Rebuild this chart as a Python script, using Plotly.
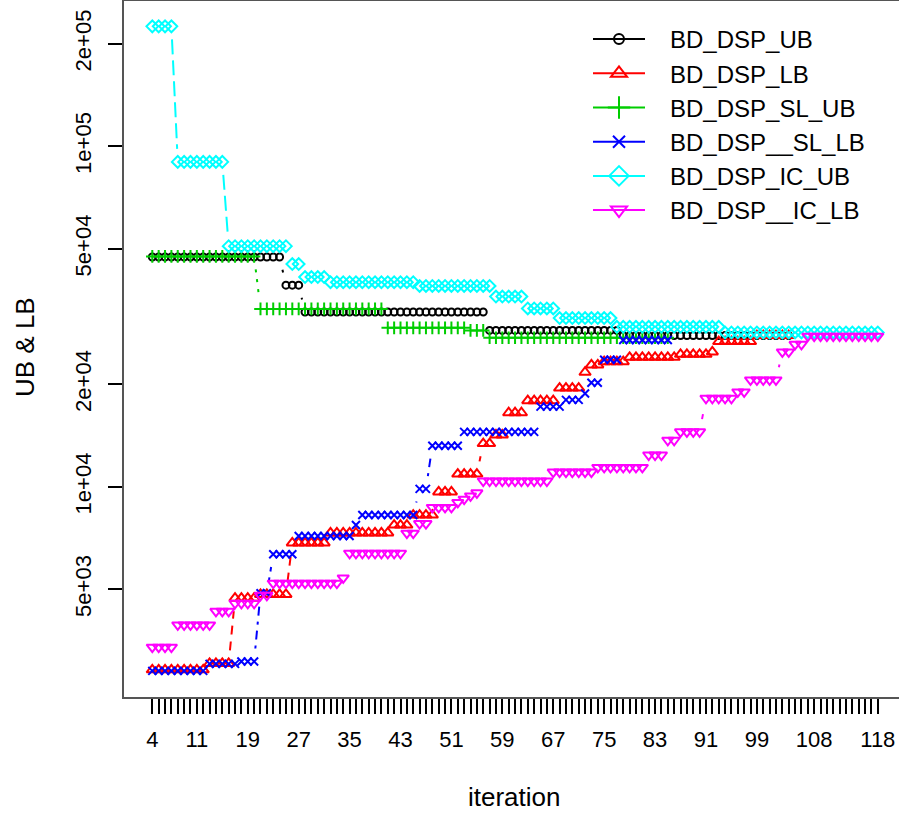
import math
import plotly.graph_objects as go

# ---------------- data ----------------
ITER_LABELS = [4, 11, 19, 27, 35, 43, 51, 59, 67, 75, 83, 91, 99, 108, 118]
ITER_FIRST, ITER_LAST = 4, 118
Y_TICKS = [5e3, 1e4, 2e4, 5e4, 1e5, 2e5]
Y_TICK_TEXT = ["5e+03", "1e+04", "2e+04", "5e+04", "1e+05", "2e+05"]

# BD_DSP (iterations 4..104)
iter_bd = list(range(4, 105))
bd_ub = [
    47300, 47300, 47300, 47300, 47300, 47300, 47300, 47300, 47300, 47300,
    47300, 47300, 47300, 47300, 47300, 47300, 47300, 47300, 47300, 47300,
    47300,
    39100, 39100, 39100,
    32600, 32600, 32600, 32600, 32600, 32600, 32600, 32600, 32600, 32600,
    32600, 32600, 32600, 32600, 32600, 32600, 32600, 32600, 32600, 32600,
    32600, 32600, 32600, 32600, 32600, 32600, 32600, 32600, 32600,
    28800, 28800, 28800, 28800, 28800, 28800, 28800, 28800, 28800, 28800,
    28800, 28800, 28800, 28800, 28800, 28800, 28800, 28800, 28800, 28800,
    28800,
    27800, 27800, 27800, 27800, 27800, 27800, 27800, 27800, 27800, 27800,
    27800, 27800, 27800, 27800, 27800, 27800, 27800, 27800, 27800, 27800,
    27800, 27800, 27800, 27800, 27800, 27800, 27800,
]
bd_lb = [
    2900, 2900, 2900, 2900, 2900, 2900, 2900, 2900, 2900,
    3030, 3030, 3030, 3030,
    4710, 4710, 4710, 4710,
    4830, 4830, 4830, 4830, 4830,
    6840, 6840, 6840, 6840, 6840, 6840,
    7320, 7320, 7320, 7320, 7320, 7320, 7320, 7320, 7320, 7320,
    7720, 7720, 7720,
    8260, 8260, 8260, 8260,
    9660, 9660, 9660,
    10900, 10900, 10900, 10900,
    13400, 13400,
    14200, 14200,
    16500, 16500, 16500,
    17900, 17900, 17900, 17900, 17900,
    19500, 19500, 19500, 19500,
    21700,
    22800, 22800,
    23300, 23300, 23300, 23300,
    24000, 24000, 24000, 24000, 24000, 24000, 24000, 24000,
    24500, 24500, 24500, 24500, 24500,
    24900,
    26700, 26700, 26700, 26700, 26700, 26700,
    27800, 27800, 27800, 27800, 27800, 27800,
]

# BD_DSP with SL (iterations 4..85)
iter_sl = list(range(4, 86))
sl_ub = [
    47500, 47500, 47500, 47500, 47500, 47500, 47500, 47500, 47500, 47500,
    47500, 47500, 47500, 47500, 47500, 47500, 47500,
    33300, 33300, 33300, 33300, 33300, 33300, 33300, 33300, 33300, 33300,
    33300, 33300, 33300, 33300, 33300, 33300, 33300, 33300, 33300, 33300,
    29300, 29300, 29300, 29300, 29300, 29300, 29300, 29300, 29300, 29300,
    29300, 29300, 29300,
    28800, 28800, 28800,
    27400, 27400, 27400, 27400, 27400, 27400, 27400, 27400, 27400, 27400,
    27400, 27400, 27400, 27400, 27400, 27400, 27400, 27400, 27400, 27400,
    27400, 27400, 27400, 27400, 27400, 27400, 27400, 27400, 27400,
]
sl_lb = [
    2880, 2880, 2880, 2880, 2880, 2880, 2880, 2880, 2880,
    3020, 3020, 3020, 3020, 3020,
    3070, 3070, 3070,
    4870, 4870,
    6340, 6340, 6340, 6340,
    7170, 7170, 7170, 7170, 7170, 7170, 7170, 7170, 7170,
    7720,
    8260, 8260, 8260, 8260, 8260, 8260, 8260, 8260, 8260,
    9860, 9860,
    13200, 13200, 13200, 13200, 13200,
    14500, 14500, 14500, 14500, 14500, 14500, 14500, 14500, 14500, 14500,
    14500, 14500,
    17200, 17200, 17200, 17200,
    18000, 18000, 18000,
    18800,
    20200, 20200,
    23600, 23600, 23600,
    27000, 27000, 27000, 27000, 27000, 27000, 27000, 27000,
]

# BD_DSP with IC (iterations 4..118)
iter_ic = list(range(4, 119))
ic_ub = [
    225000, 225000, 225000, 225000,
    90000, 90000, 90000, 90000, 90000, 90000, 90000, 90000,
    50900, 50900, 50900, 50900, 50900, 50900, 50900, 50900, 50900, 50900,
    45100, 45100,
    41300, 41300, 41300, 41300,
    39900, 39900, 39900, 39900, 39900, 39900, 39900, 39900, 39900, 39900,
    39900, 39900, 39900, 39900,
    38900, 38900, 38900, 38900, 38900, 38900, 38900, 38900, 38900, 38900,
    38900, 38900,
    36200, 36200, 36200, 36200, 36200,
    33400, 33400, 33400, 33400, 33400,
    31300, 31300, 31300, 31300, 31300, 31300, 31300, 31300, 31300,
    29500, 29500, 29500, 29500, 29500, 29500, 29500, 29500, 29500, 29500,
    29500, 29500, 29500, 29500, 29500, 29500, 29500,
    28400, 28400, 28400, 28400, 28400, 28400, 28400, 28400, 28400, 28400,
    28400, 28400, 28400, 28400, 28400, 28400, 28400, 28400, 28400, 28400,
    28400, 28400, 28400, 28400, 28400,
]
ic_lb = [
    3380, 3380, 3380, 3380,
    3930, 3930, 3930, 3930, 3930, 3930,
    4310, 4310, 4310,
    4550, 4550, 4550, 4550,
    4800, 4800,
    5210, 5210, 5210, 5210, 5210, 5210, 5210, 5210, 5210, 5210, 5210,
    5400,
    6380, 6380, 6380, 6380, 6380, 6380, 6380, 6380, 6380,
    7310, 7310,
    7800, 7800,
    8700, 8700, 8700, 8700,
    9000, 9200, 9400, 9600,
    10400, 10400, 10400, 10400, 10400, 10400, 10400, 10400, 10400, 10400,
    10400,
    11050, 11050, 11050, 11050, 11050, 11050, 11050,
    11400, 11400, 11400, 11400, 11400, 11400, 11400, 11400,
    12400, 12400, 12400,
    13700, 13700,
    14500, 14500, 14500, 14500,
    18200, 18200, 18200, 18200, 18200,
    19000, 19000,
    20600, 20600, 20600, 20600, 20600,
    24900, 24900,
    26200, 26200,
    27700, 27700, 27700, 27700, 27700, 27700, 27700, 27700, 27700, 27700,
    27700, 27700,
]

SERIES = [
    ("BD_DSP_UB", iter_bd, bd_ub),
    ("BD_DSP_LB", iter_bd, bd_lb),
    ("BD_DSP_SL_UB", iter_sl, sl_ub),
    ("BD_DSP__SL_LB", iter_sl, sl_lb),
    ("BD_DSP_IC_UB", iter_ic, ic_ub),
    ("BD_DSP__IC_LB", iter_ic, ic_lb),
]
for _n, _x, _y in SERIES:
    assert len(_x) == len(_y), (_n, len(_x), len(_y))

# ---------------- styles ----------------
COLORS = ["#000000", "#FF0000", "#00CD00", "#0000FF", "#00FFFF", "#FF00FF"]
SYMBOLS = ["circle-open", "triangle-up-open", "cross-thin-open",
           "x-thin-open", "diamond-open", "triangle-down-open"]
SIZES = [7, 10, 9, 8, 9, 10]
LEG_SIZES = [10, 14, 16, 12, 15, 14]
DASHES = ["solid", "9px,7px", "3px,7px", "3px,6px,9px,6px", "15px,6px", "5px,5px,13px,5px"]

W, H = 899, 814
ML, MR, MT, MB = 124, 0, 1, 117
PW, PH = W - ML - MR, H - MT - MB
XR = [-0.447, 121.33]
YR = [3.3827, 5.4267]
GAP = 13.0  # R type="b" gap around each point, px


def to_px(x, v):
    px = ML + (x - XR[0]) / (XR[1] - XR[0]) * PW
    py = MT + (YR[1] - math.log10(v)) / (YR[1] - YR[0]) * PH
    return px, py


def from_px(px, py):
    x = XR[0] + (px - ML) / PW * (XR[1] - XR[0])
    v = 10 ** (YR[1] - (py - MT) / PH * (YR[1] - YR[0]))
    return x, v


def gapped_segments(xs, ys):
    sx, sy = [], []
    for i in range(len(xs) - 1):
        p0 = to_px(xs[i], ys[i])
        p1 = to_px(xs[i + 1], ys[i + 1])
        dx, dy = p1[0] - p0[0], p1[1] - p0[1]
        d = math.hypot(dx, dy)
        if d <= 2 * GAP:
            continue
        ux, uy = dx / d, dy / d
        a = from_px(p0[0] + ux * GAP, p0[1] + uy * GAP)
        b = from_px(p1[0] - ux * GAP, p1[1] - uy * GAP)
        sx += [a[0], b[0], None]
        sy += [a[1], b[1], None]
    return sx, sy


fig = go.Figure()
for k, (name, xs, ys) in enumerate(SERIES):
    sx, sy = gapped_segments(xs, ys)
    fig.add_trace(go.Scatter(x=sx, y=sy, mode="lines", showlegend=False,
                             hoverinfo="skip",
                             line=dict(color=COLORS[k], width=2, dash=DASHES[k])))
    fig.add_trace(go.Scatter(x=xs, y=ys, mode="markers", showlegend=False, name=name,
                             marker=dict(symbol=SYMBOLS[k], size=SIZES[k], color=COLORS[k],
                                         line=dict(width=2, color=COLORS[k]))))

# legend-only entries (solid lines, as in the reference)
for k, (name, xs, ys) in enumerate(SERIES):
    fig.add_trace(go.Scatter(x=[None], y=[None], mode="lines+markers",
                             name="\u00a0\u00a0\u00a0" + name,
                             line=dict(color=COLORS[k], width=2),
                             marker=dict(symbol=SYMBOLS[k], size=LEG_SIZES[k], color=COLORS[k],
                                         line=dict(width=2, color=COLORS[k]))))

tickvals = list(range(ITER_FIRST, ITER_LAST + 1))
ticktext = [str(v) if v in ITER_LABELS else "" for v in tickvals]

FONT = "Liberation Sans, Arial, sans-serif"
fig.update_layout(
    width=W, height=H,
    margin=dict(l=ML, r=MR, t=MT, b=MB, pad=0),
    paper_bgcolor="white", plot_bgcolor="white",
    font=dict(family=FONT, color="black", size=22),
    showlegend=True,
    legend=dict(x=(588 - ML) / PW, y=1 - (17 - MT) / PH, xanchor="left", yanchor="top",
                bgcolor="rgba(0,0,0,0)", borderwidth=0,
                font=dict(family=FONT, size=24, color="black"),
                tracegroupgap=0, itemsizing="trace", itemwidth=52),
    xaxis=dict(range=XR, tickmode="array", tickvals=tickvals, ticktext=ticktext,
               ticks="outside", ticklen=15, tickwidth=2, tickcolor="black",
               showgrid=False, zeroline=False, showline=True, linecolor="#555555",
               linewidth=1.5, mirror=True, tickfont=dict(size=22),
               ticklabelstandoff=7),
    yaxis=dict(type="log", range=YR, tickmode="array", tickvals=Y_TICKS,
               ticktext=Y_TICK_TEXT, tickangle=-90,
               ticks="outside", ticklen=14, tickwidth=2, tickcolor="black",
               showgrid=False, zeroline=False, showline=True, linecolor="#555555",
               linewidth=1.5, tickfont=dict(size=22), ticklabelstandoff=8),
    annotations=[
        dict(text="UB & LB", xref="paper", yref="paper",
             x=(25 - ML) / PW, y=1 - (347 - MT) / PH, textangle=-90,
             showarrow=False, font=dict(size=26), xanchor="center", yanchor="middle"),
        dict(text="iteration", xref="paper", yref="paper",
             x=(514 - ML) / PW, y=1 - (797 - MT) / PH,
             showarrow=False, font=dict(size=26), xanchor="center", yanchor="middle"),
    ],
)

fig.write_html("out.html")
